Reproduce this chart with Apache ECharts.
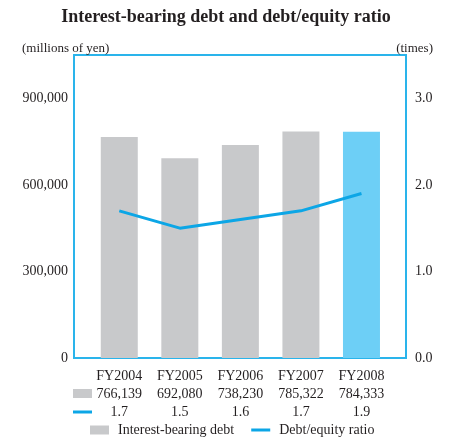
<!DOCTYPE html>
<html>
<head>
<meta charset="utf-8">
<script src="https://cdn.jsdelivr.net/npm/echarts@6/dist/echarts.min.js"></script>
<style>
  html, body { margin: 0; padding: 0; background: #fff; }
  #chart { width: 452px; height: 439px; }
</style>
</head>
<body>
<div id="chart"></div>
<script>
// Fiscal years and the two measures plotted for each
const years = ['FY2004', 'FY2005', 'FY2006', 'FY2007', 'FY2008'];
const debt = [766139, 692080, 738230, 785322, 784333];   // millions of yen
const ratio = [1.7, 1.5, 1.6, 1.7, 1.9];                 // times

// Axis ranges
const debtMax = 1050000, debtStep = 300000;
const ratioMax = 3.5, ratioStep = 1;

const FONT = '"Liberation Serif", "DejaVu Serif", serif';
const TEXT = '#231f20';
const GRAY = '#c8c9cb';
const SKY = '#6dcff6';
const LINE = '#0ca6e6';
const FRAME = '#2ab4eb';

const chart = echarts.init(document.getElementById('chart'), null, { renderer: 'canvas' });

const fmtDebt = v => (v % debtStep === 0 ? v.toLocaleString('en-US') : '');
const fmtRatio = v => (Math.abs(v / ratioStep - Math.round(v / ratioStep)) < 1e-9 ? v.toFixed(1) : '');

chart.setOption({
  animation: false,
  textStyle: { fontFamily: FONT, color: TEXT },
  title: [
    { text: 'Interest-bearing debt and debt/equity ratio', left: 'center', top: 3,
      textStyle: { fontFamily: FONT, fontSize: 18, fontWeight: 'bold', color: TEXT } },
    { text: '(millions of yen)', left: 17, top: 37, padding: 5,
      textStyle: { fontFamily: FONT, fontSize: 13, fontWeight: 'normal', color: TEXT } },
    { text: '(times)', right: 14, top: 37, padding: 5,
      textStyle: { fontFamily: FONT, fontSize: 13, fontWeight: 'normal', color: TEXT } }
  ],
  grid: [
    // framed plot area carrying both value axes
    { left: 74, top: 55, width: 332, height: 303, show: true,
      borderColor: FRAME, borderWidth: 2, backgroundColor: 'transparent' },
    // inner band holding the five categories
    { left: 89, top: 55, width: 302.75, height: 303 }
  ],
  xAxis: [
    { type: 'value', gridIndex: 0, show: false },
    { type: 'category', gridIndex: 1, data: years,
      axisLine: { show: false }, axisTick: { show: false },
      axisLabel: {
        margin: 9, interval: 0,
        formatter: (v, i) => `{y|${v}}\n{n|${debt[i].toLocaleString('en-US')}}\n{n|${ratio[i].toFixed(1)}}`,
        rich: {
          y: { fontFamily: FONT, fontSize: 14, lineHeight: 18, color: TEXT },
          n: { fontFamily: FONT, fontSize: 14, lineHeight: 18, color: TEXT }
        }
      } }
  ],
  yAxis: [
    { type: 'value', gridIndex: 0, position: 'left', min: 0, max: debtMax, interval: debtStep,
      axisLine: { show: false }, axisTick: { show: false }, splitLine: { show: false },
      axisLabel: { margin: 6, formatter: fmtDebt, fontFamily: FONT, fontSize: 14, color: TEXT } },
    { type: 'value', gridIndex: 0, position: 'right', min: 0, max: ratioMax, interval: ratioStep,
      axisLine: { show: false }, axisTick: { show: false }, splitLine: { show: false },
      axisLabel: { margin: 9, formatter: fmtRatio, fontFamily: FONT, fontSize: 14, color: TEXT } },
    { type: 'value', gridIndex: 1, min: 0, max: debtMax, show: false },
    { type: 'value', gridIndex: 1, min: 0, max: ratioMax, show: false }
  ],
  legend: {
    left: 85, top: 418, itemWidth: 19, itemHeight: 9, itemGap: 17,
    symbolKeepAspect: true,
    textStyle: { fontFamily: FONT, fontSize: 14, color: TEXT, padding: [0, 0, 0, 4] },
    data: [
      { name: 'Interest-bearing debt', icon: 'rect', itemStyle: { color: GRAY } },
      { name: 'Debt/equity ratio', icon: 'path://M0,0H19V3H0Z', itemStyle: { color: LINE } }
    ]
  },
  graphic: [
    // row keys beside the value table
    { type: 'rect', left: 73, top: 389, shape: { width: 19, height: 9 }, style: { fill: GRAY }, silent: true },
    { type: 'rect', left: 73, top: 410.5, shape: { width: 19, height: 3 }, style: { fill: LINE }, silent: true }
  ],
  series: [
    { name: 'Interest-bearing debt', type: 'bar', xAxisIndex: 1, yAxisIndex: 2, barWidth: 37,
      itemStyle: { color: GRAY },
      data: debt.map((v, i) => (i === debt.length - 1 ? { value: v, itemStyle: { color: SKY } } : v)) },
    { name: 'Debt/equity ratio', type: 'line', xAxisIndex: 1, yAxisIndex: 3,
      symbol: 'none', lineStyle: { color: LINE, width: 3 }, itemStyle: { color: LINE },
      data: ratio, z: 3 }
  ]
});
</script>
</body>
</html>
